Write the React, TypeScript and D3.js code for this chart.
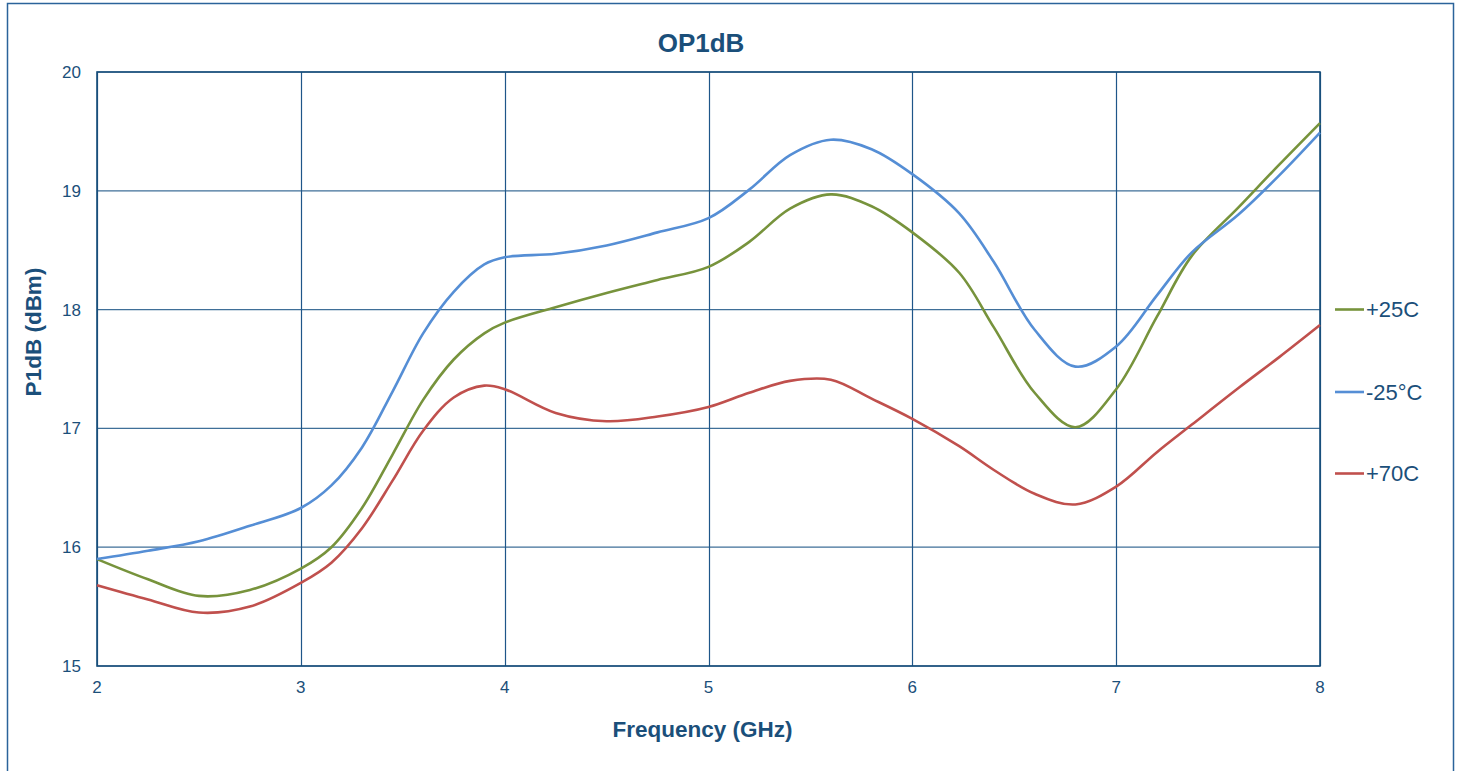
import React from "react";
import * as d3 from "d3";

const freq = [2, 2.25, 2.5, 2.75, 3, 3.15, 3.3, 3.45, 3.6, 3.75, 3.9, 4, 4.25, 4.5, 4.75, 5, 5.2, 5.4, 5.6, 5.8, 6, 6.23, 6.4, 6.6, 6.8, 7, 7.2, 7.37, 7.6, 7.8, 8];
const p25 = [15.9, 15.73, 15.59, 15.64, 15.82, 16.0, 16.33, 16.78, 17.24, 17.58, 17.8, 17.89, 18.02, 18.14, 18.25, 18.36, 18.57, 18.85, 18.97, 18.87, 18.65, 18.31, 17.85, 17.3, 17.01, 17.33, 17.94, 18.45, 18.86, 19.22, 19.57];
const m25 = [15.9, 15.97, 16.05, 16.18, 16.33, 16.52, 16.84, 17.31, 17.8, 18.15, 18.38, 18.44, 18.47, 18.54, 18.65, 18.77, 19.01, 19.3, 19.43, 19.35, 19.14, 18.81, 18.4, 17.83, 17.52, 17.69, 18.12, 18.48, 18.8, 19.13, 19.49];
const p70 = [15.68, 15.56, 15.45, 15.5, 15.7, 15.87, 16.16, 16.56, 16.98, 17.26, 17.36, 17.33, 17.13, 17.06, 17.1, 17.18, 17.3, 17.4, 17.41, 17.25, 17.08, 16.85, 16.65, 16.45, 16.36, 16.51, 16.8, 17.03, 17.34, 17.6, 17.87];

const seriesNames = ["+25C", "-25°C", "+70C"];
const seriesColors = ["#77933C", "#558ED5", "#C0504D"];
const seriesValues = [p25, m25, p70];
const xTicks = [2, 3, 4, 5, 6, 7, 8];
const yTicks = [15, 16, 17, 18, 19, 20];

const W = 1460, H = 771;
const plot = { left: 97, right: 1320, top: 72, bottom: 666 };
const textColor = "#1B4F7A";
const vGridColor = "#1F5689";
const hGridColor = "#3F6F98";
const font = "'Liberation Sans', Arial, sans-serif";

export default function App() {
  const x = d3.scaleLinear().domain([2, 8]).range([plot.left, plot.right]);
  const y = d3.scaleLinear().domain([15, 20]).range([plot.bottom, plot.top]);
  const line = d3
    .line<[number, number]>()
    .x((d) => x(d[0]))
    .y((d) => y(d[1]))
    .curve(d3.curveCatmullRom.alpha(0.5));

  const legendY = [309.5, 392, 473.5];

  return (
    <svg width={W} height={H} style={{ position: "absolute", left: 0, top: 0 }} fontFamily={font}>
      <rect x={0} y={0} width={W} height={H} fill="#fff" />
      <rect x={7.5} y={3.5} width={1446} height={800} fill="none" stroke="#2B639A" strokeWidth={1.5} />
      {yTicks.map((t) => (
        <line key={"h" + t} x1={plot.left} x2={plot.right} y1={y(t)} y2={y(t)} stroke={hGridColor} strokeWidth={1.2} />
      ))}
      {xTicks.map((t) => (
        <line key={"v" + t} x1={Math.round(x(t)) + 0.5} x2={Math.round(x(t)) + 0.5} y1={plot.top} y2={plot.bottom} stroke={vGridColor} strokeWidth={1.2} />
      ))}
      <rect x={plot.left} y={plot.top} width={plot.right - plot.left} height={plot.bottom - plot.top} fill="none" stroke="#174E7A" strokeWidth={1.6} />
      {seriesValues.map((vals, i) => (
        <path
          key={seriesNames[i]}
          d={line(freq.map((f, j) => [f, vals[j]] as [number, number])) || ""}
          fill="none"
          stroke={seriesColors[i]}
          strokeWidth={2.6}
        />
      ))}
      {yTicks.map((t) => (
        <text key={"yl" + t} x={81} y={y(t)} dy="0.35em" textAnchor="end" fontSize={17} fill={textColor}>
          {t}
        </text>
      ))}
      {xTicks.map((t) => (
        <text key={"xl" + t} x={x(t)} y={693} textAnchor="middle" fontSize={17} fill={textColor}>
          {t}
        </text>
      ))}
      <text x={701} y={51.5} textAnchor="middle" fontSize={26} fontWeight="bold" fill={textColor}>
        OP1dB
      </text>
      <text x={702.5} y={737} textAnchor="middle" fontSize={22.5} fontWeight="bold" fill={textColor}>
        Frequency (GHz)
      </text>
      <text
        transform={`translate(41, 332) rotate(-90)`}
        textAnchor="middle"
        fontSize={22.5}
        fontWeight="bold"
        fill={textColor}
      >
        P1dB (dBm)
      </text>
      {seriesNames.map((n, i) => (
        <g key={"lg" + n}>
          <line x1={1335} x2={1364} y1={legendY[i]} y2={legendY[i]} stroke={seriesColors[i]} strokeWidth={2.6} />
          <text x={1366} y={legendY[i]} dy="0.36em" fontSize={22} fill={textColor}>
            {n}
          </text>
        </g>
      ))}
    </svg>
  );
}
